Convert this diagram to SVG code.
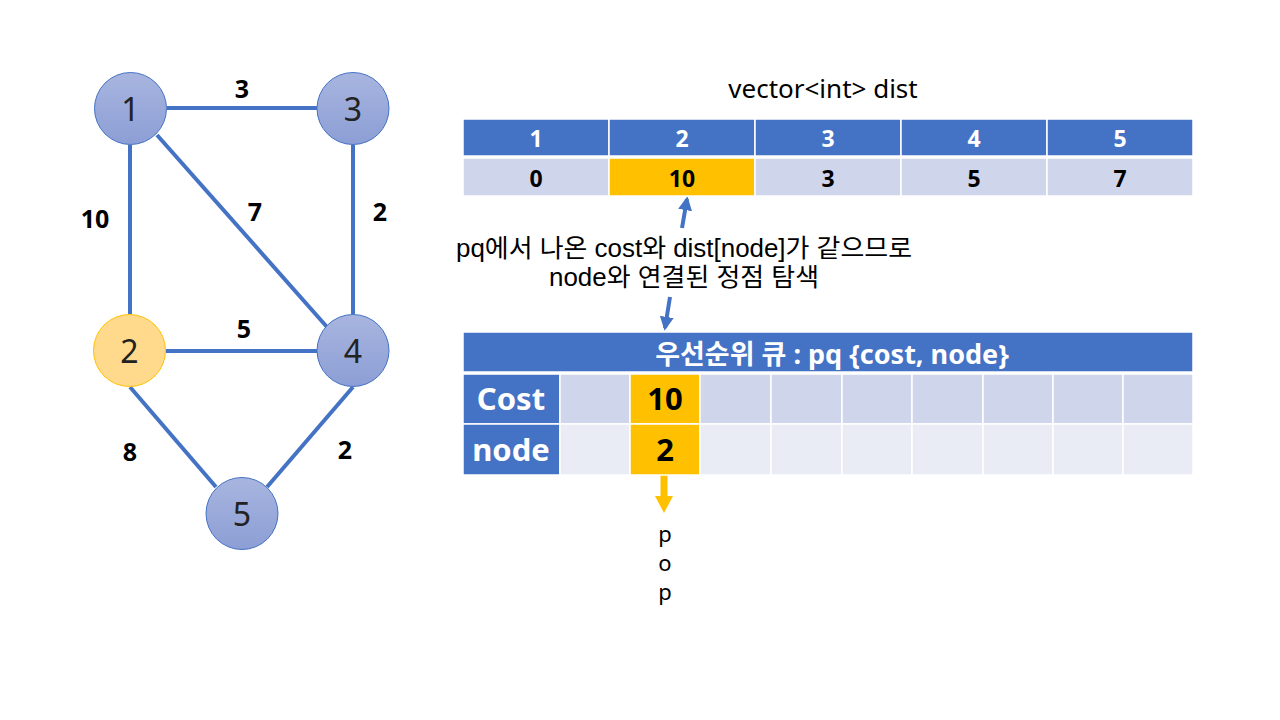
<svg xmlns="http://www.w3.org/2000/svg" width="1280" height="720" viewBox="0 0 1280 720">
<defs>
<linearGradient id="gBlue" x1="0" y1="0" x2="0" y2="1">
<stop offset="0" stop-color="#A8B5DF"/>
<stop offset="1" stop-color="#8C9ED5"/>
</linearGradient>
<marker id="arrBlue" viewBox="0 0 10 10" refX="8" refY="5" markerWidth="3.5" markerHeight="3.5" orient="auto">
<path d="M0,0 L10,5 L0,10 z" fill="#4472C4"/>
</marker>
</defs>
<style>
text{font-family:"Noto Sans","Noto Sans CJK KR",sans-serif}
.node circle{fill:url(#gBlue);stroke:#4472C4;stroke-width:1}
.node.hl circle{fill:#FFD98C;stroke:#FFC000}
.node text{font-size:32px;fill:#222;text-anchor:middle;dominant-baseline:central}
.edge{stroke:#4472C4;stroke-width:4;fill:none}
.elab{font-size:25px;font-weight:bold;fill:#000;text-anchor:middle;dominant-baseline:central}
.hdr{fill:#4472C4;stroke:#fff;stroke-width:1.5}
.c1{fill:#CFD5EA;stroke:#fff;stroke-width:1.5}
.c2{fill:#E9EBF5;stroke:#fff;stroke-width:1.5}
.cy{fill:#FFC000;stroke:#fff;stroke-width:1.5}
.ht{font-size:23px;font-weight:bold;fill:#fff;text-anchor:middle;dominant-baseline:central}
.dt{font-size:23px;font-weight:bold;fill:#000;text-anchor:middle;dominant-baseline:central}
.big{font-size:31px;font-weight:bold;text-anchor:middle;dominant-baseline:central}
.lbl{font-family:"Liberation Sans","Noto Sans CJK KR",sans-serif;font-size:25px;fill:#000;text-anchor:middle;dominant-baseline:central}
.pop{font-size:22px;fill:#000;text-anchor:middle;dominant-baseline:central}
</style>
<rect width="1280" height="720" fill="#fff"/>
<g id="connectors">
<line class="edge" x1="167" y1="108" x2="317" y2="108"/>
<line class="edge" x1="130" y1="145" x2="130" y2="314"/>
<line class="edge" x1="157" y1="135" x2="327" y2="327"/>
<line class="edge" x1="353" y1="145" x2="353" y2="314"/>
<line class="edge" x1="166" y1="351" x2="317" y2="351"/>
<line class="edge" x1="130" y1="387" x2="216" y2="487"/>
<line class="edge" x1="353" y1="387" x2="267" y2="487"/>
<line stroke="#4472C4" stroke-width="4" x1="682" y1="228" x2="687" y2="199" marker-end="url(#arrBlue)"/>
<line stroke="#4472C4" stroke-width="4" x1="670" y1="297" x2="665" y2="328" marker-end="url(#arrBlue)"/>
<line stroke="#FFC000" stroke-width="7" x1="664" y1="475" x2="664" y2="497"/>
<path d="M655,496 L673,496 L664,513 z" fill="#FFC000"/>
</g>
<g id="edge-labels">
<text class="elab" x="242" y="88">3</text>
<text class="elab" x="95" y="218">10</text>
<text class="elab" x="255" y="211">7</text>
<text class="elab" x="380" y="211">2</text>
<text class="elab" x="244" y="328">5</text>
<text class="elab" x="130" y="451">8</text>
<text class="elab" x="345" y="449">2</text>
</g>
<g id="node1" class="node"><circle cx="130.5" cy="108.5" r="36"/><text x="130.5" y="108.5">1</text></g>
<g id="node3" class="node"><circle cx="353" cy="108.5" r="36"/><text x="353" y="108.5">3</text></g>
<g id="node2" class="node hl"><circle cx="129.5" cy="350.5" r="36"/><text x="129.5" y="350.5">2</text></g>
<g id="node4" class="node"><circle cx="353" cy="350.5" r="36"/><text x="353" y="350.5">4</text></g>
<g id="node5" class="node"><circle cx="242" cy="513.5" r="36"/><text x="242" y="513.5">5</text></g>

<g id="dist">
<text x="823" y="88" style="font-size:26px;fill:#000;text-anchor:middle;dominant-baseline:central">vector&lt;int&gt; dist</text>
<rect class="hdr" x="463" y="119" width="146" height="37"/>
<rect class="hdr" x="609" y="119" width="146" height="37"/>
<rect class="hdr" x="755" y="119" width="146" height="37"/>
<rect class="hdr" x="901" y="119" width="146" height="37"/>
<rect class="hdr" x="1047" y="119" width="146" height="37"/>
<rect class="c1" x="463" y="158" width="146" height="38"/>
<rect class="cy" x="609" y="158" width="146" height="38"/>
<rect class="c1" x="755" y="158" width="146" height="38"/>
<rect class="c1" x="901" y="158" width="146" height="38"/>
<rect class="c1" x="1047" y="158" width="146" height="38"/>
<text class="ht" x="536" y="138">1</text>
<text class="ht" x="682" y="138">2</text>
<text class="ht" x="828" y="138">3</text>
<text class="ht" x="974" y="138">4</text>
<text class="ht" x="1120" y="138">5</text>
<text class="dt" x="536" y="178">0</text>
<text class="dt" x="682" y="178">10</text>
<text class="dt" x="828" y="178">3</text>
<text class="dt" x="974" y="178">5</text>
<text class="dt" x="1120" y="178">7</text>
</g>

<g id="note">
<text class="lbl" x="684" y="248" textLength="456" lengthAdjust="spacingAndGlyphs">pq에서 나온 cost와 dist[node]가 같으므로</text>
<text class="lbl" x="684" y="277" textLength="270" lengthAdjust="spacingAndGlyphs">node와 연결된 정점 탐색</text>
</g>

<g id="pq">
<rect class="hdr" x="463" y="332" width="730" height="40"/>
<text x="832" y="353" style="font-size:27px;font-weight:bold;fill:#fff;text-anchor:middle;dominant-baseline:central">우선순위 큐 : pq {cost, node}</text>
<rect class="hdr" x="463" y="374" width="97" height="50"/>
<rect class="hdr" x="463" y="424" width="97" height="51"/>
<text class="big" x="511" y="398" fill="#fff">Cost</text>
<text class="big" x="511" y="449" fill="#fff">node</text>
<rect class="c1" x="560" y="374" width="70" height="50"/>
<rect class="cy" x="630" y="374" width="70" height="50"/>
<rect class="c1" x="700" y="374" width="71" height="50"/>
<rect class="c1" x="771" y="374" width="71" height="50"/>
<rect class="c1" x="842" y="374" width="70" height="50"/>
<rect class="c1" x="912" y="374" width="71" height="50"/>
<rect class="c1" x="983" y="374" width="70" height="50"/>
<rect class="c1" x="1053" y="374" width="70" height="50"/>
<rect class="c1" x="1123" y="374" width="70" height="50"/>
<rect class="c2" x="560" y="424" width="70" height="51"/>
<rect class="cy" x="630" y="424" width="70" height="51"/>
<rect class="c2" x="700" y="424" width="71" height="51"/>
<rect class="c2" x="771" y="424" width="71" height="51"/>
<rect class="c2" x="842" y="424" width="70" height="51"/>
<rect class="c2" x="912" y="424" width="71" height="51"/>
<rect class="c2" x="983" y="424" width="70" height="51"/>
<rect class="c2" x="1053" y="424" width="70" height="51"/>
<rect class="c2" x="1123" y="424" width="70" height="51"/>
<text class="big" x="665" y="398" fill="#000">10</text>
<text class="big" x="665" y="449" fill="#000">2</text>
</g>

<g id="pop">
<text class="pop" x="665" y="533">p</text>
<text class="pop" x="665" y="562">o</text>
<text class="pop" x="665" y="591">p</text>
</g>
</svg>
